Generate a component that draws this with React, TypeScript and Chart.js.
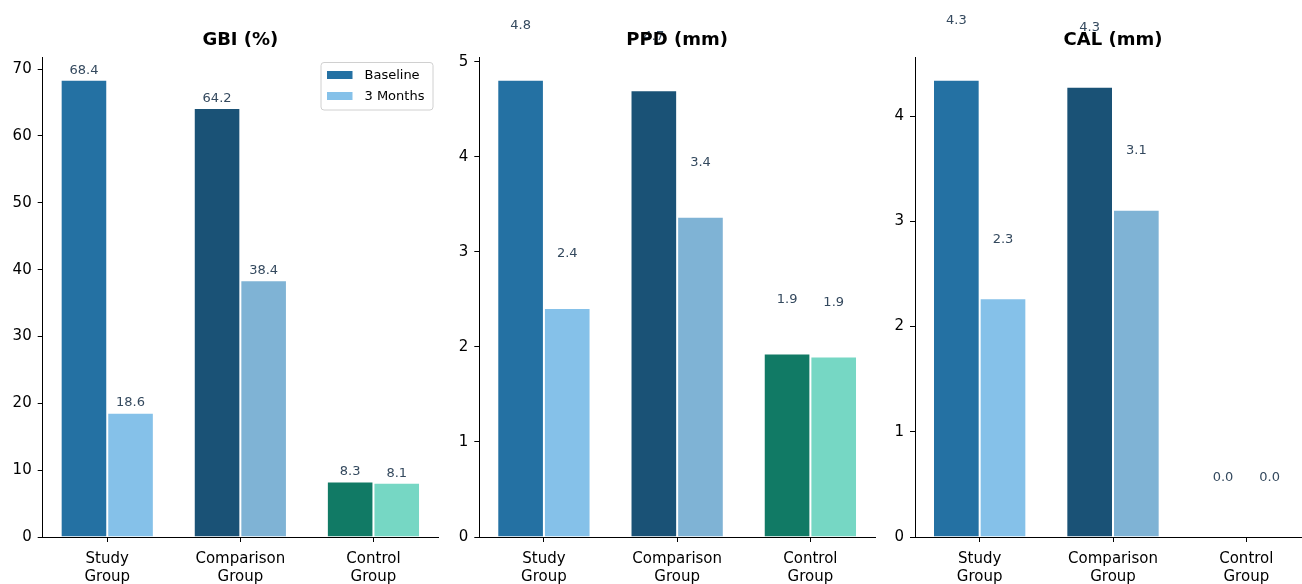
import React, { useEffect, useRef } from "react";
import { Chart, registerables } from "chart.js";

Chart.register(...registerables);

// ---------- data ----------
const groupLabels = [["Study", "Group"], ["Comparison", "Group"], ["Control", "Group"]];
const seriesNames = ["Baseline", "3 Months"];

const gbiBaseline = [68.4, 64.2, 8.3];
const gbiMonth3 = [18.6, 38.4, 8.1];
const ppdBaseline = [4.81, 4.7, 1.93];
const ppdMonth3 = [2.41, 3.37, 1.9];
const calBaseline = [4.345, 4.28, 0.0];
const calMonth3 = [2.27, 3.11, 0.0];

const gbiTicks = [0, 10, 20, 30, 40, 50, 60, 70];
const ppdTicks = [0, 1, 2, 3, 4, 5];
const calTicks = [0, 1, 2, 3, 4];

const titles = ["GBI (%)", "PPD (mm)", "CAL (mm)"];

const baselineColors = ["#2471A3", "#1A5276", "#117A65"];
const month3Colors = ["#85C1E9", "#7FB3D5", "#76D7C4"];

const FONT = "'DejaVu Sans', sans-serif";
const LABEL_OFFSET = 0.5;

type PanelCfg = {
  title: string;
  base: number[];
  m3: number[];
  ticks: number[];
  left: number;
  width: number;
  yWidth: number;
  padRight: number;
  legend: boolean;
};

const panels: PanelCfg[] = [
  { title: titles[0], base: gbiBaseline, m3: gbiMonth3, ticks: gbiTicks, left: 0, width: 440, yWidth: 42.7, padRight: 2, legend: true },
  { title: titles[1], base: ppdBaseline, m3: ppdMonth3, ticks: ppdTicks, left: 440, width: 438, yWidth: 39.3, padRight: 3, legend: false },
  { title: titles[2], base: calBaseline, m3: calMonth3, ticks: calTicks, left: 878, width: 436, yWidth: 37, padRight: 3, legend: false },
];

function Panel({ cfg }: { cfg: PanelCfg }) {
  const ref = useRef<HTMLCanvasElement | null>(null);
  useEffect(() => {
    if (!ref.current) return;
    const yMax = Math.max(...cfg.base, ...cfg.m3) * 1.05;

    const labelPlugin = {
      id: "valueLabels",
      afterDatasetsDraw(chart: any) {
        const ctx = chart.ctx;
        const yScale = chart.scales.y;
        ctx.save();
        ctx.font = `13px ${FONT}`;
        ctx.fillStyle = "#34495e";
        ctx.textAlign = "center";
        ctx.textBaseline = "alphabetic";
        chart.data.datasets.forEach((ds: any, di: number) => {
          const meta = chart.getDatasetMeta(di);
          ds.data.forEach((pt: any, i: number) => {
            const bar = meta.data[i];
            const y = yScale.getPixelForValue(pt.y + LABEL_OFFSET);
            ctx.fillText(pt.y.toFixed(1), bar.x, y - 3);
          });
        });
        ctx.restore();
      },
      afterDraw(chart: any) {
        const ctx = chart.ctx;
        const ca = chart.chartArea;
        ctx.save();
        ctx.font = `bold 18px ${FONT}`;
        ctx.fillStyle = "#000";
        ctx.textAlign = "center";
        ctx.textBaseline = "alphabetic";
        ctx.fillText(cfg.title, (ca.left + ca.right) / 2, 45);
        if (cfg.legend) {
          const bx = ca.right - 117, by = 62.5, bw = 112, bh = 47.5;
          ctx.fillStyle = "rgba(255,255,255,0.8)";
          ctx.strokeStyle = "#d0d0d0";
          ctx.lineWidth = 1;
          ctx.beginPath();
          (ctx as any).roundRect(bx, by, bw, bh, 3);
          ctx.fill();
          ctx.stroke();
          const cols = [baselineColors[0], month3Colors[0]];
          ctx.font = `13px ${FONT}`;
          ctx.textAlign = "left";
          ctx.textBaseline = "middle";
          seriesNames.forEach((n, i) => {
            const ry = by + 8.5 + i * 21;
            ctx.fillStyle = cols[i];
            ctx.fillRect(bx + 6, ry, 25.5, 8);
            ctx.fillStyle = "#000";
            ctx.fillText(n, bx + 43.5, ry + 4.5);
          });
        }
        ctx.restore();
      },
    };

    const mk = (vals: number[]) => vals.map((v, i) => ({ x: i, y: v }));

    const chart = new Chart(ref.current, {
      type: "bar",
      data: {
        datasets: [
          { label: seriesNames[0], data: mk(cfg.base) as any, backgroundColor: baselineColors, borderColor: "#ffffff", borderWidth: 1, barPercentage: 1, categoryPercentage: 0.7 },
          { label: seriesNames[1], data: mk(cfg.m3) as any, backgroundColor: month3Colors, borderColor: "#ffffff", borderWidth: 1, barPercentage: 1, categoryPercentage: 0.7 },
        ],
      },
      options: {
        responsive: false,
        animation: false,
        devicePixelRatio: 1,
        layout: { padding: { top: 57, right: cfg.padRight, left: 0, bottom: 0 } },
        plugins: { legend: { display: false }, title: { display: false }, tooltip: { enabled: false } },
        scales: {
          x: {
            type: "linear",
            min: -0.485,
            max: 2.485,
            offset: false,
            afterBuildTicks: (s: any) => { s.ticks = [0, 1, 2].map((v) => ({ value: v })); },
            afterFit: (s: any) => { s.height = 47; },
            grid: { offset: false, drawOnChartArea: false, drawTicks: true, tickLength: 5, color: "#000", tickColor: "#000", tickWidth: 1 },
            border: { display: true, color: "#000", width: 1 },
            ticks: {
              autoSkip: false,
              maxRotation: 0,
              padding: 8,
              color: "#000",
              font: { family: FONT, size: 15, lineHeight: 1.2 },
              callback: (v: any) => groupLabels[Math.round(v)] as any,
            },
          },
          y: {
            type: "linear",
            min: 0,
            max: yMax,
            afterBuildTicks: (s: any) => { s.ticks = cfg.ticks.map((v) => ({ value: v })); },
            afterFit: (s: any) => { s.width = cfg.yWidth; },
            grid: { drawOnChartArea: false, drawTicks: true, tickLength: 5, color: "#000", tickColor: "#000", tickWidth: 1 },
            border: { display: true, color: "#000", width: 1 },
            ticks: { padding: 6, color: "#000", font: { family: FONT, size: 15 } },
          },
        },
      },
      plugins: [labelPlugin],
    });
    return () => chart.destroy();
  }, [cfg]);

  return (
    <canvas
      ref={ref}
      width={cfg.width}
      height={584}
      style={{ position: "absolute", left: cfg.left, top: 0, width: cfg.width, height: 584 }}
    />
  );
}

export default function App() {
  return (
    <div style={{ position: "absolute", left: 0, top: 0, width: 1302, height: 584, overflow: "hidden", background: "#fff" }}>
      {panels.map((p, i) => (
        <Panel key={i} cfg={p} />
      ))}
    </div>
  );
}
